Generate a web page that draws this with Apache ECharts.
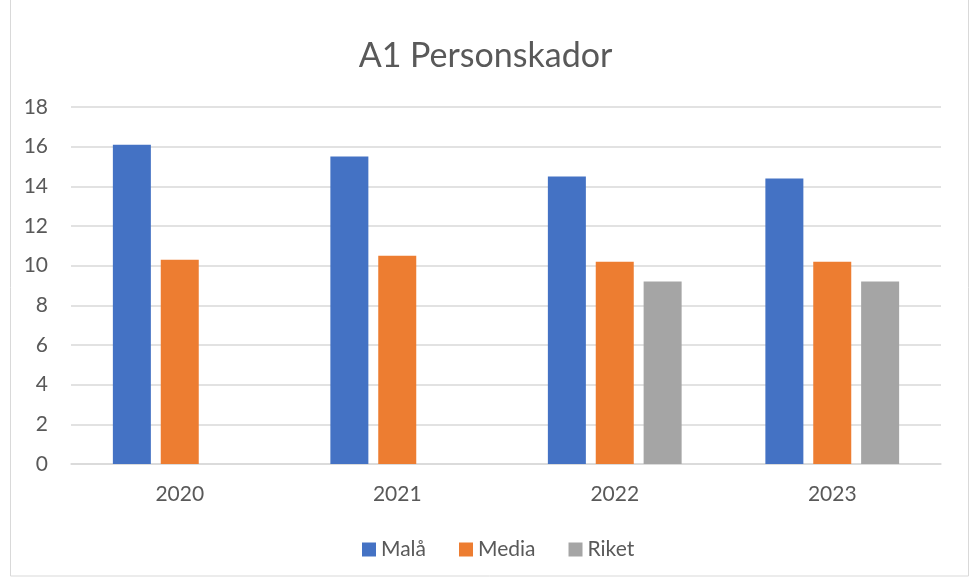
<!DOCTYPE html>
<html>
<head>
<meta charset="utf-8">
<script src="https://cdn.jsdelivr.net/npm/echarts@6/dist/echarts.min.js"></script>
<style>
    html, body { margin: 0; padding: 0; background: #fff; }
    #chart { width: 971px; height: 578px; }
</style>
</head>
<body>
<div id="chart"></div>
<script>
    var years = ['2020', '2021', '2022', '2023'];
    var mala = [16.1, 15.5, 14.5, 14.4];
    var media = [10.3, 10.5, 10.2, 10.2];
    var riket = [null, null, 9.2, 9.2];

    var textColor = '#595959';
    var font = 'Lato, "Liberation Sans", sans-serif';

    var chart = echarts.init(document.getElementById('chart'));
    chart.setOption({
        backgroundColor: '#fff',
        animation: false,
        textStyle: { fontFamily: font },
        title: {
            text: 'A1 Personskador',
            left: 'center',
            top: 34,
            textStyle: { color: textColor, fontSize: 34, fontWeight: 'normal', fontFamily: font }
        },
        graphic: [{
            type: 'rect',
            shape: { x: 10.5, y: -1, width: 958, height: 577 },
            style: { fill: 'none', stroke: '#d9d9d9', lineWidth: 1 },
            silent: true
        }],
        legend: {
            data: ['Malå', 'Media', 'Riket'],
            bottom: 13,
            left: 357,
            icon: 'rect',
            itemWidth: 14,
            itemHeight: 14,
            itemGap: 33,
            itemTextGap: 9,
            textStyle: { color: textColor, fontSize: 21, fontFamily: font }
        },
        grid: { left: 71, right: 30, top: 107, bottom: 114 },
        xAxis: {
            type: 'category',
            data: years,
            axisLine: { lineStyle: { color: '#d9d9d9', width: 1.5 } },
            axisTick: { show: false },
            axisLabel: { color: textColor, fontSize: 21, margin: 20, fontFamily: font }
        },
        yAxis: {
            type: 'value',
            min: 0,
            max: 18,
            interval: 2,
            axisLine: { show: false },
            axisTick: { show: false },
            axisLabel: { color: textColor, fontSize: 21, margin: 23, fontFamily: font },
            splitLine: { lineStyle: { color: '#d9d9d9', width: 1.5 } }
        },
        series: [
            { name: 'Malå', type: 'bar', data: mala, barWidth: 38, barGap: '26%', itemStyle: { color: '#4472C4' } },
            { name: 'Media', type: 'bar', data: media, barWidth: 38, barGap: '26%', itemStyle: { color: '#ED7D31' } },
            { name: 'Riket', type: 'bar', data: riket, barWidth: 38, barGap: '26%', itemStyle: { color: '#A5A5A5' } }
        ]
    });
</script>
</body>
</html>
